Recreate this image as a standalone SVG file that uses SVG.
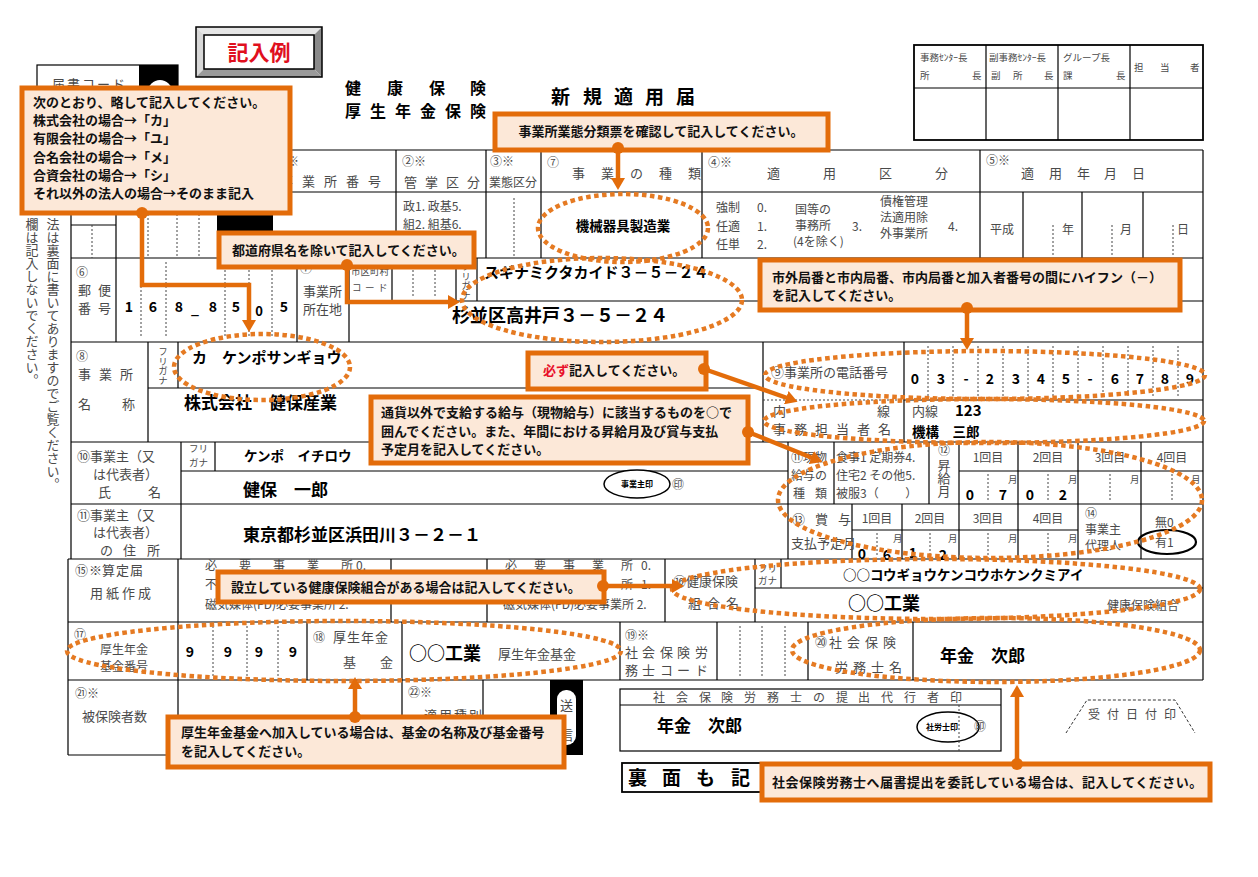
<svg xmlns="http://www.w3.org/2000/svg" width="1258" height="877" viewBox="0 0 1258 877">
<defs>
<style>
text{font-family:"Noto Sans CJK JP","Noto Sans",sans-serif}
.l{font-size:12px;fill:#4a4a4a}
.m{font-size:13px;fill:#4a4a4a}
.s{font-size:9.5px;fill:#4a4a4a}
.v{font-weight:700;fill:#000}
.f{fill:none;stroke:#000;stroke-width:1.2}
.fb{fill:none;stroke:#000;stroke-width:1.8}
.d{fill:none;stroke:#444;stroke-width:1;stroke-dasharray:2 2}
.hl{fill:none;stroke:#E57A22;stroke-width:4.5;stroke-dasharray:4.5 3.5}
.box{fill:#FCE8D8;stroke:#E36C0A;stroke-width:5}
.ct{font-size:13px;font-weight:700;fill:#111}
.cn{fill:none;stroke:#E36C0A;stroke-width:4.5}
.dot{fill:#E36C0A}
.vt{writing-mode:vertical-rl}
</style>
<marker id="ah" markerWidth="14" markerHeight="14" refX="4" refY="7" orient="auto" markerUnits="userSpaceOnUse">
<path d="M0,0 L12,7 L0,14 Z" fill="#E36C0A"/>
</marker>
</defs>
<rect width="1258" height="877" fill="#fff"/>

<g id="title">
<polygon points="196,27 322,27 314,35 204,35" fill="#e6e6e6"/>
<polygon points="196,27 204,35 204,69 196,77" fill="#d8d8d8"/>
<polygon points="322,27 322,77 314,69 314,35" fill="#8a8a8a"/>
<polygon points="196,77 322,77 314,69 204,69" fill="#9a9a9a"/>
<rect x="196" y="27" width="126" height="50" fill="none" stroke="#000" stroke-width="1.5"/>
<rect x="204" y="35" width="110" height="34" fill="#fff" stroke="#000" stroke-width="1.5"/>
<text x="259" y="60" text-anchor="middle" font-size="21" font-weight="700" fill="#E0101E">記入例</text>
<text y="94" font-size="16" font-weight="700" fill="#000" x="345 387 429 470">健康保険</text>
<text y="117" font-size="16" font-weight="700" fill="#000" x="345 370 395 420 445 470">厚生年金保険</text>
<text y="104" font-size="19" font-weight="700" fill="#000" x="551 583 614 645 676">新規適用届</text>
</g>

<g id="todoke-code">
<rect x="37" y="65" width="141" height="40" fill="#fff" stroke="#000" stroke-width="1.2"/>
<rect x="139" y="65" width="39" height="40" fill="#000"/>
<circle cx="160" cy="92" r="12" fill="#fff"/>
<text x="52" y="89" class="m" letter-spacing="2">届書コード</text>
</g>

<g id="approval">
<rect x="914" y="45" width="289" height="95" class="fb"/>
<path class="f" d="M914,88H1203 M986,45V140 M1058,45V140 M1130,45V140"/>
<text class="s" x="920" y="61">事務ｾﾝﾀｰ長</text>
<text class="s" x="920" y="79">所</text><text class="s" x="972" y="79">長</text>
<text class="s" x="989" y="61">副事務ｾﾝﾀｰ長</text>
<text class="s" x="991" y="79">副</text><text class="s" x="1013" y="79">所</text><text class="s" x="1044" y="79">長</text>
<text class="s" x="1063" y="61">グループ長</text>
<text class="s" x="1063" y="79">課</text><text class="s" x="1116" y="79">長</text>
<text class="s" x="1134" y="71">担</text><text class="s" x="1160" y="71">当</text><text class="s" x="1190" y="71">者</text>
</g>

<g id="side-note">
<text class="m vt" x="53" y="218" font-size="12.8">法は裏面に書いてありますのでご覧ください。</text>
<text class="m vt" x="32" y="218" font-size="12.3">欄は記入しないでください。</text>
</g>

<g id="form">
<rect x="217" y="192" width="56" height="66" fill="#000"/>
<rect x="550" y="680" width="33" height="75" fill="#000"/>
<rect x="557" y="690" width="19" height="55" rx="9" fill="#fff"/>
<path class="f" d="M71,150H1203 M71,192H1203 M71,258H1203 M71,342H1203 M71,442H1203 M71,504H1203 M68,559H1203 M68,622H1203 M68,680H1203 M68,755H550
M71,150V559 M1203,150V680 M68,559V755
M396,150V258 M486,150V258 M541,150V258 M702,150V258 M980,150V258
M116,192V342 M71,225H116
M1023,192V258 M1082,192V258 M1143,192V258
M297,258V342 M349,258V342 M392,258V301 M456,258V301 M477,258V301 M349,301H1203
M148,342V442 M178,342V388 M148,388H763 M763,342V442 M904,342V442 M904,400H1203
M181,442V559 M215,442V471 M181,471H788 M788,442V559
M834,442V504 M929,442V504 M959,442V559 M1018,442V559 M1078,442V559 M1141,442V559 M959,471H1203 M852,504V559 M902,504V559 M852,530H1078
M178,559V755 M391,559V622 M487,559V622 M665,559V622 M755,559V622 M781,559V588 M755,588H1203
M307,622V680 M402,622V755 M620,622V680 M717,622V680 M808,622V680 M913,622V680
M483,680V755"/>
<path class="d" d="M92,225V258 M148,194V258 M177,194V258 M199,194V258 M514,198V256
M1053,225V256 M1112,225V256 M1173,225V256
M141,262V338 M166,262V338 M225,262V338 M249,262V338 M272,262V338
M413,262V298 M435,262V298
M763,400H904
M928,346V398 M953,346V398 M978,346V398 M1003,346V398 M1028,346V398 M1053,346V398 M1078,346V398 M1103,346V398 M1128,346V398 M1153,346V398 M1178,346V398
M988,474V502 M1048,474V502 M1110,474V502 M1172,474V502
M877,533V557 M930,533V557 M988,533V557 M1048,533V557
M213,626V676 M247,626V676 M278,626V676
M740,626V676 M762,626V676 M785,626V676"/>

<!-- header row -->
<text class="l" x="275" y="166">①※</text>
<text class="m" y="186" x="280 302 324 346 368">事業所番号</text>
<text class="l" x="402" y="166">②※</text>
<text class="m" y="187" x="404 425 446 467">管掌区分</text>
<text class="l" x="490" y="166">③※</text>
<text class="l" x="489" y="187">業態区分</text>
<text class="l" x="547" y="167">⑦</text>
<text class="m" y="178" x="572 601 630 659 688">事業の種類</text>
<text class="l" x="708" y="167">④※</text>
<text class="m" y="178" x="767 823 879 935">適用区分</text>
<text class="l" x="986" y="165">⑤※</text>
<text class="m" y="178" x="1021 1049 1077 1104 1132">適用年月日</text>
<!-- body row -->
<text class="l" x="403" y="211">政1. 政基5.</text>
<text class="l" x="403" y="229">組2. 組基6.</text>
<text class="v" x="623" y="231" text-anchor="middle" font-size="13.5">機械器具製造業</text>
<text class="l" x="716" y="212">強制</text><text class="l" x="757" y="212">0.</text>
<text class="l" x="716" y="231">任適</text><text class="l" x="757" y="231">1.</text>
<text class="l" x="716" y="249">任単</text><text class="l" x="757" y="249">2.</text>
<text class="l" x="795" y="214" font-size="10.5">国等の</text>
<text class="l" x="795" y="230" font-size="10.5">事務所</text>
<text class="l" x="793" y="246" font-size="10.5">(4を除く)</text>
<text class="l" x="852" y="231">3.</text>
<text class="l" x="880" y="206">債権管理</text>
<text class="l" x="880" y="222">法適用除</text>
<text class="l" x="880" y="238">外事業所</text>
<text class="l" x="948" y="231">4.</text>
<text class="l" x="990" y="234" font-size="11">平成</text>
<text class="l" x="1062" y="234">年</text>
<text class="l" x="1120" y="234">月</text>
<text class="l" x="1177" y="234">日</text>
<!-- row 6/7 -->
<text class="l" x="76" y="277">⑥</text>
<text class="m" y="295" x="78 98">郵便</text>
<text class="m" y="313" x="78 98">番号</text>
<g class="v" font-size="14" text-anchor="middle">
<text x="129" y="312">1</text><text x="153" y="312">6</text><text x="179" y="312">8</text><text x="195" y="314">_</text><text x="213" y="312">8</text><text x="236" y="312">5</text><text x="259" y="316" font-size="13">0</text><text x="284" y="312">5</text>
</g>
<text class="l" x="300" y="273">⑦</text>
<text class="m" x="303" y="296">事業所</text>
<text class="m" x="303" y="314">所在地</text>
<text class="s" x="351" y="275">市区町村</text>
<text class="s" y="291" x="352 365 378">コード</text>
<text class="s vt" x="466" y="262" font-size="9">フリガナ</text>
<text class="v" x="484" y="278" font-size="15">スギナミクタカイド３－５－２４</text>
<text class="v" x="452" y="322" font-size="18">杉並区高井戸３－５－２４</text>
<!-- row 8 -->
<text class="l" x="76" y="361">⑧</text>
<text class="m" y="379" x="78 99 120">事業所</text>
<text class="m" x="78" y="409">名</text><text class="m" x="122" y="409">称</text>
<text class="s vt" x="163" y="347">フリガナ</text>
<text class="v" x="192" y="363" font-size="15">カ　ケンポサンギョウ</text>
<text class="v" x="184" y="409" font-size="17">株式会社　健保産業</text>
<!-- row 9 -->
<text class="m" x="771" y="377">⑨事業所の電話番号</text>
<g class="v" font-size="14" text-anchor="middle">
<text x="915" y="384">0</text><text x="941" y="384">3</text><text x="966" y="384">-</text><text x="990" y="384">2</text><text x="1016" y="384">3</text><text x="1041" y="384">4</text><text x="1066" y="384">5</text><text x="1090" y="384">-</text><text x="1115" y="384">6</text><text x="1140" y="384">7</text><text x="1165" y="384">8</text><text x="1190" y="384">9</text>
</g>
<text class="m" x="773" y="416">内</text><text class="m" x="877" y="416">線</text>
<text class="m" y="434" x="773 794 815 836 857 878">事務担当者名</text>
<text class="m" x="912" y="416">内線</text>
<text class="v" x="955" y="416" font-size="15">123</text>
<text class="v" x="912" y="437" font-size="13.5">機構　三郎</text>
<!-- row 10/11 -->
<text class="m" x="77" y="461">⑩事業主（又</text>
<text class="m" x="93" y="479">は代表者）</text>
<text class="m" x="98" y="497">氏</text><text class="m" x="148" y="497">名</text>
<text class="s" x="189" y="452">フリ</text>
<text class="s" x="189" y="466">ガナ</text>
<text class="v" x="244" y="461" font-size="13.5">ケンポ　イチロウ</text>
<text class="v" x="243" y="496" font-size="17">健保　一郎</text>
<ellipse cx="637" cy="484" rx="33" ry="14" fill="#fff" stroke="#000" stroke-width="1.5"/>
<text x="637" y="487" text-anchor="middle" font-size="8" font-weight="700" fill="#000">事業主印</text>
<text class="l" x="672" y="489" font-size="11">㊞</text>
<text class="m" x="77" y="520" font-size="12.5">⑪事業主（又</text>
<text class="m" x="93" y="537" font-size="12.5">は代表者）</text>
<text class="m" x="100" y="555" font-size="12.5">の</text><text class="m" x="123" y="555" font-size="12.5">住</text><text class="m" x="147" y="555" font-size="12.5">所</text>
<text class="v" x="243" y="541" font-size="17">東京都杉並区浜田川３－２－１</text>
<!-- genbutsu / shokyu -->
<text class="l" x="791" y="462">⑪現物</text>
<text class="l" x="791" y="480">給与の</text>
<text class="l" x="793" y="498">種</text><text class="l" x="815" y="498">類</text>
<text class="l" x="836" y="462">食事1 定期券4.</text>
<text class="l" x="836" y="480">住宅2 その他5.</text>
<text class="l" x="836" y="498">被服3（　　 ）</text>
<text class="l" x="944" y="455" text-anchor="middle">⑫</text>
<text class="m vt" x="944" y="459">昇給月</text>
<g class="l" text-anchor="middle">
<text x="988" y="462">1回目</text><text x="1048" y="462">2回目</text><text x="1110" y="462">3回目</text><text x="1172" y="462">4回目</text>
<text x="877" y="523">1回目</text><text x="930" y="523">2回目</text><text x="988" y="523">3回目</text><text x="1048" y="523">4回目</text>
</g>
<g class="s" font-size="10">
<text x="1008" y="483">月</text><text x="1068" y="483">月</text><text x="1130" y="483">月</text><text x="1191" y="483">月</text>
<text x="893" y="542">月</text><text x="948" y="542">月</text><text x="1008" y="542">月</text><text x="1068" y="542">月</text>
</g>
<g class="v" font-size="14" text-anchor="middle">
<text x="970" y="500">0</text><text x="1003" y="500">7</text><text x="1030" y="500">0</text><text x="1063" y="500">2</text>
<text x="862" y="559">0</text><text x="887" y="560">6</text><text x="913" y="558">1</text><text x="943" y="560">2</text>
</g>
<text class="m" x="792" y="524">⑬</text><text class="m" x="815" y="524">賞</text><text class="m" x="838" y="524">与</text>
<text class="m" x="791" y="548">支払予定月</text>
<text class="l" x="1085" y="518">⑭</text>
<text class="l" x="1085" y="534">事業主</text>
<text class="l" x="1085" y="550">代理人</text>
<text class="l" x="1155" y="527">無0</text>
<text class="l" x="1155" y="547">有1</text>
<ellipse cx="1167" cy="542" rx="29" ry="12" fill="none" stroke="#000" stroke-width="2.2"/>
<!-- row 15/16 -->
<text class="m" y="575" x="75 89 102 116 130 144">⑮※算定届</text>
<text class="m" y="598" x="90 106 122 138">用紙作成</text>
<text class="l" y="570" x="205 239 273 307 341">必要事業所</text><text class="l" x="356" y="570">0.</text>
<text class="l" y="589" x="205">不</text>
<text class="l" x="205" y="609" font-size="11">磁気媒体(FD)必要事業所 2.</text>
<text class="l" y="570" x="505 534 563 592 621">必要事業所</text><text class="l" x="641" y="570">0.</text>
<text class="l" y="589" x="621">所</text><text class="l" x="641" y="589">1.</text>
<text class="l" x="503" y="609" font-size="11">磁気媒体(FD)必要事業所 2.</text>
<text class="m" x="673" y="586">⑯健康保険</text>
<text class="m" y="608" x="688 707 726">組合名</text>
<text class="s" x="758" y="572" font-size="8.5">フリ</text>
<text class="s" x="758" y="584" font-size="8.5">ガナ</text>
<text class="v" x="843" y="580" font-size="13.5">○○コウギョウケンコウホケンクミアイ</text>
<text class="v" x="848" y="610" font-size="18">○○工業</text>
<text class="l" x="1107" y="610" font-size="13">健康保険組合</text>
<!-- row 17/18 -->
<text class="l" x="74" y="639">⑰</text>
<text class="l" x="100" y="654" font-size="10.5">厚生年金</text>
<text class="l" x="100" y="671" font-size="10.5">基金番号</text>
<g class="v" font-size="14" text-anchor="middle">
<text x="190" y="657">9</text><text x="228" y="657">9</text><text x="259" y="657">9</text><text x="293" y="657">9</text>
</g>
<text class="l" x="313" y="642">⑱</text>
<text class="m" y="642" x="333 347 361 375">厚生年金</text>
<text class="m" x="343" y="667">基</text><text class="m" x="380" y="667">金</text>
<text class="v" x="409" y="660" font-size="18">○○工業</text>
<text class="m" x="498" y="659">厚生年金基金</text>
<text class="l" x="625" y="640">⑲※</text>
<text class="m" y="657" x="625 642 660 677 695">社会保険労</text>
<text class="m" y="675" x="625 642 660 677 695">務士コード</text>
<text class="l" x="815" y="647">⑳</text>
<text class="m" y="647" x="829 847 865 883">社会保険</text>
<text class="m" y="672" x="835 853 871 889">労務士名</text>
<text class="v" x="940" y="662" font-size="17">年金　次郎</text>
<!-- row 21 -->
<text class="l" x="75" y="698">㉑※</text>
<text class="m" x="82" y="721">被保険者数</text>
<text class="l" x="408" y="697">㉒※</text>
<text class="m" y="720" x="424 439 454 469">適用種別</text>
<text class="m" x="560" y="710">送</text>
<text class="m" x="560" y="740">信</text>
</g>

<g id="sharoushi-box">
<rect x="620" y="689" width="381" height="62" class="f"/>
<path class="f" d="M620,705H1001"/>
<path class="d" d="M959,705V751"/>
<text class="l" y="702" x="653 676 699 721 744 767 790 813 836 858 881 904 927 950">社会保険労務士の提出代行者印</text>
<text class="v" x="657" y="732" font-size="17">年金　次郎</text>
<ellipse cx="948" cy="727" rx="31" ry="15" fill="#fff" stroke="#000" stroke-width="1.5"/>
<path class="d" d="M959,712V742"/>
<text x="942" y="730" text-anchor="middle" font-size="8" font-weight="700" fill="#000">社労士印</text>
<text class="l" x="974" y="731" font-size="11">㊞</text>
</g>

<g id="uketsuke">
<path d="M1066,733 L1087,700 H1175 L1195,733" fill="none" stroke="#333" stroke-width="1" stroke-dasharray="3 2"/>
<text class="l" y="719" font-size="11" x="1088 1107 1126 1145 1164">受付日付印</text>
</g>

<g id="ura">
<rect x="622" y="763" width="200" height="29" class="fb"/>
<text y="785" font-size="19" font-weight="700" fill="#000" x="628 662 696 731">裏面も記</text>
</g>

<g id="highlights">
<ellipse class="hl" cx="623" cy="228" rx="85" ry="34"/>
<ellipse class="hl" cx="602" cy="300" rx="140" ry="42"/>
<ellipse class="hl" cx="262" cy="367" rx="88" ry="33"/>
<ellipse class="hl" cx="985" cy="375" rx="220" ry="24"/>
<ellipse class="hl" cx="984" cy="421" rx="220" ry="22"/>
<ellipse class="hl" cx="990" cy="500" rx="212" ry="58"/>
<ellipse class="hl" cx="936" cy="589" rx="264" ry="30"/>
<ellipse class="hl" cx="344" cy="651" rx="277" ry="30"/>
<ellipse class="hl" cx="996" cy="650" rx="204" ry="32"/>
</g>

<g id="co-abbrev">
<rect class="box" x="22" y="88" width="268" height="125"/>
<text class="ct" x="33" y="107">次のとおり、略して記入してください。</text>
<text class="ct" x="33" y="125">株式会社の場合→「カ」</text>
<text class="ct" x="33" y="143">有限会社の場合→「ユ」</text>
<text class="ct" x="33" y="162">合名会社の場合→「メ」</text>
<text class="ct" x="33" y="180">合資会社の場合→「シ」</text>
<text class="ct" x="33" y="198">それ以外の法人の場合→そのまま記入</text>
</g>
<g id="co-gyotai">
<rect class="box" x="495" y="114" width="333" height="36"/>
<text class="ct" x="661" y="136" text-anchor="middle">事業所業態分類票を確認して記入してください。</text>
</g>
<g id="co-pref">
<rect class="box" x="219" y="233" width="255" height="34"/>
<text class="ct" x="232" y="255">都道府県名を除いて記入してください。</text>
</g>
<g id="co-phone">
<rect class="box" x="760" y="260" width="420" height="50"/>
<text class="ct" x="772" y="282">市外局番と市内局番、市内局番と加入者番号の間にハイフン（－）</text>
<text class="ct" x="772" y="300">を記入してください。</text>
</g>
<g id="co-must">
<rect class="box" x="528" y="353" width="178" height="36"/>
<text class="ct" x="543" y="375"><tspan fill="#E8102A">必ず</tspan>記入してください。</text>
</g>
<g id="co-genbutsu">
<rect class="box" x="371" y="397" width="377" height="66"/>
<text class="ct" x="381" y="417">通貨以外で支給する給与（現物給与）に該当するものを○で</text>
<text class="ct" x="381" y="436">囲んでください。また、年間における昇給月及び賞与支払</text>
<text class="ct" x="381" y="454">予定月を記入してください。</text>
</g>
<g id="co-kenpo">
<rect class="box" x="218" y="572" width="386" height="30"/>
<text class="ct" x="231" y="592">設立している健康保険組合がある場合は記入してください。</text>
</g>
<g id="co-kikin">
<rect class="box" x="168" y="717" width="396" height="50"/>
<text class="ct" x="181" y="737">厚生年金基金へ加入している場合は、基金の名称及び基金番号</text>
<text class="ct" x="181" y="756">を記入してください。</text>
</g>
<g id="co-sharoushi">
<rect class="box" x="762" y="764" width="448" height="36"/>
<text class="ct" x="772" y="787" letter-spacing="0.5">社会保険労務士へ届書提出を委託している場合は、記入してください。</text>
</g>

<g id="connectors">
<path class="cn" d="M142,213 V285 H249 V324" marker-end="url(#ah)"/>
<path class="cn" d="M618,148 V182" marker-end="url(#ah)"/>
<path class="cn" d="M347,265 V302 H452" marker-end="url(#ah)"/>
<path class="cn" d="M967,308 V342" marker-end="url(#ah)"/>
<path class="cn" d="M704,369 L790,399" marker-end="url(#ah)"/>
<path class="cn" d="M748,432 L815,459" marker-end="url(#ah)"/>
<path class="cn" d="M603,586 H676" marker-end="url(#ah)"/>
<path class="cn" d="M355,717 V685" marker-end="url(#ah)"/>
<path class="cn" d="M1017,764 V693" marker-end="url(#ah)"/>
<circle class="dot" cx="142" cy="213" r="6"/>
<circle class="dot" cx="618" cy="148" r="6"/>
<circle class="dot" cx="347" cy="265" r="6"/>
<circle class="dot" cx="967" cy="308" r="6"/>
<circle class="dot" cx="704" cy="369" r="6"/>
<circle class="dot" cx="748" cy="432" r="6"/>
<circle class="dot" cx="603" cy="586" r="6"/>
<circle class="dot" cx="355" cy="717" r="6"/>
<circle class="dot" cx="1017" cy="764" r="6"/>
</g>
</svg>
